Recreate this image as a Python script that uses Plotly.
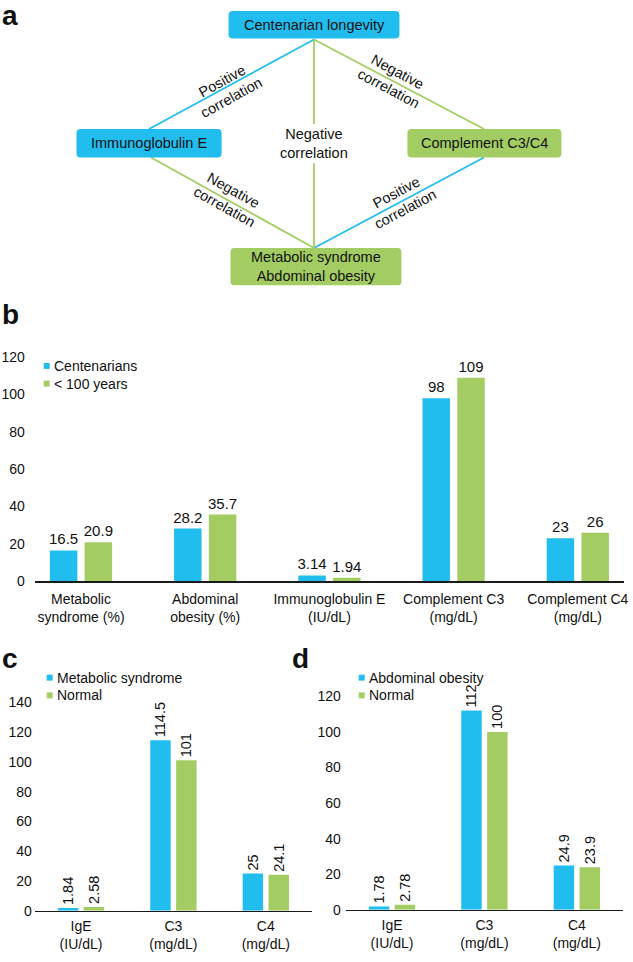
import plotly.graph_objects as go

W, H = 633, 962
BLUE = "#21BDEE"
GREEN = "#A3CD63"
FONT = "Arial, Liberation Sans, sans-serif"

# ---------------- data ----------------
b_categories = ["Metabolic<br>syndrome (%)", "Abdominal<br>obesity (%)",
                "Immunoglobulin E<br>(IU/dL)", "Complement C3<br>(mg/dL)",
                "Complement C4<br>(mg/dL)"]
b_centenarians = [16.5, 28.2, 3.14, 98, 23]
b_under100 = [20.9, 35.7, 1.94, 109, 26]

cd_categories = ["IgE<br>(IU/dL)", "C3<br>(mg/dL)", "C4<br>(mg/dL)"]
c_metabolic = [1.84, 114.5, 25]
c_normal = [2.58, 101, 24.1]
d_abdominal = [1.78, 112, 24.9]
d_normal = [2.78, 100, 23.9]

b_yticks = [0, 20, 40, 60, 80, 100, 120]
c_yticks = [0, 20, 40, 60, 80, 100, 120, 140]
d_yticks = [0, 20, 40, 60, 80, 100, 120]


def px(x):
    return x / W


def py(y):
    return 1 - y / H


fig = go.Figure()

def add_bars(x, y, color, name, xa, ya, angle, size):
    fig.add_trace(go.Bar(
        x=x, y=y, name=name, marker=dict(color=color, line=dict(width=0)),
        xaxis=xa, yaxis=ya, texttemplate="%{y}", textposition="outside",
        textangle=angle, constraintext="none", cliponaxis=False,
        textfont=dict(family=FONT, size=size, color="#111"),
        showlegend=False, hoverinfo="skip"))

add_bars(b_categories, b_centenarians, BLUE, "Centenarians", "x", "y", 0, 15)
add_bars(b_categories, b_under100, GREEN, "< 100 years", "x", "y", 0, 15)
add_bars(cd_categories, c_metabolic, BLUE, "Metabolic syndrome", "x2", "y2", -90, 14.5)
add_bars(cd_categories, c_normal, GREEN, "Normal", "x2", "y2", -90, 14.5)
add_bars(cd_categories, d_abdominal, BLUE, "Abdominal obesity", "x3", "y3", -90, 14.5)
add_bars(cd_categories, d_normal, GREEN, "Normal", "x3", "y3", -90, 14.5)

xcommon = dict(showgrid=False, zeroline=False, showline=True, linecolor="#1a1a1a",
               linewidth=1.5, ticks="", tickfont=dict(family=FONT, size=14, color="#111"),
               type="category", fixedrange=True)
ycommon = dict(showgrid=False, zeroline=False, showline=False, ticks="",
               tickfont=dict(family=FONT, size=14, color="#111"), fixedrange=True)

fig.update_layout(
    width=W, height=H, margin=dict(l=0, r=0, t=0, b=0),
    paper_bgcolor="white", plot_bgcolor="white",
    bargap=0.44, bargroupgap=0.21, barmode="group", showlegend=False,
    xaxis=dict(**xcommon, domain=[px(35), px(628)], range=[-0.372, 4.372], anchor="y",
               ticklabelstandoff=4),
    yaxis=dict(**ycommon, domain=[py(583), py(355)], range=[0, 120], tickvals=b_yticks,
               anchor="x", ticklabelstandoff=9),
    xaxis2=dict(**xcommon, domain=[px(35), px(314)], range=[-0.5, 2.5], anchor="y2",
                ticklabelstandoff=2),
    yaxis2=dict(**ycommon, domain=[py(918), py(706)], range=[0, 140], tickvals=c_yticks,
                anchor="x2", ticklabelstandoff=2),
    xaxis3=dict(**xcommon, domain=[px(348), px(627)], range=[-0.5, 2.5], anchor="y3",
                ticklabelstandoff=2),
    yaxis3=dict(**ycommon, domain=[py(917), py(700)], range=[0, 120], tickvals=d_yticks,
                anchor="x3", ticklabelstandoff=4),
)

shapes = []
annotations = []


def text(x, y, s, size=14, angle=0, bold=False, xanchor="center", yanchor="middle"):
    annotations.append(dict(
        x=px(x), y=py(y), xref="paper", yref="paper", text=("<b>%s</b>" % s) if bold else s,
        showarrow=False, textangle=angle, xanchor=xanchor, yanchor=yanchor,
        font=dict(family=FONT, size=size, color="#111")))


def line(x0, y0, x1, y1, color):
    shapes.append(dict(type="line", xref="paper", yref="paper", x0=px(x0), y0=py(y0),
                       x1=px(x1), y1=py(y1), line=dict(color=color, width=1.8)))


def rbox(x0, y0, x1, y1, color, r=4):
    p = (f"M {px(x0 + r)},{py(y0)} L {px(x1 - r)},{py(y0)} Q {px(x1)},{py(y0)} {px(x1)},{py(y0 + r)} "
         f"L {px(x1)},{py(y1 - r)} Q {px(x1)},{py(y1)} {px(x1 - r)},{py(y1)} "
         f"L {px(x0 + r)},{py(y1)} Q {px(x0)},{py(y1)} {px(x0)},{py(y1 - r)} "
         f"L {px(x0)},{py(y0 + r)} Q {px(x0)},{py(y0)} {px(x0 + r)},{py(y0)} Z")
    shapes.append(dict(type="path", xref="paper", yref="paper", path=p,
                       fillcolor=color, line=dict(width=0)))


# ---------------- panel a: diagram ----------------
line(316, 32, 150, 123, BLUE)
line(316, 32, 487, 123, GREEN)
line(152, 152, 316, 244, GREEN)
line(487, 152, 316, 244, BLUE)
line(316, 32, 316, 118, GREEN)
line(316, 158, 316, 244, GREEN)

rbox(230, 3, 402, 31, BLUE)
rbox(77, 123, 223, 152, BLUE)
rbox(410, 123, 565, 152, GREEN)
rbox(232, 244, 404, 282, GREEN)

text(316, 17, "Centenarian longevity", 14.5)
text(150, 137.5, "Immunoglobulin E", 14.5)
text(487.5, 137.5, "Complement C3/C4", 14.5)
text(318, 263, "Metabolic syndrome<br>Abdominal obesity", 14.5)
text(316, 138, "Negative<br>correlation", 14.5)
text(228, 83, "Positive<br>correlation", 14.5, angle=-29)
text(396, 74, "Negative<br>correlation", 14.5, angle=28)
text(230, 194, "Negative<br>correlation", 14.5, angle=29)
text(404, 196, "Positive<br>correlation", 14.5, angle=-28)

# panel letters
text(0, 8, "a", 28, bold=True, xanchor="left")
text(0, 312, "b", 28, bold=True, xanchor="left")
text(0, 662, "c", 28, bold=True, xanchor="left")
text(292, 662, "d", 28, bold=True, xanchor="left")

# legends (drawn as small squares + labels)
def legend_item(x, y, color, label):
    shapes.append(dict(type="rect", xref="paper", yref="paper", x0=px(x), x1=px(x + 6),
                       y0=py(y - 3), y1=py(y + 3), fillcolor=color, line=dict(width=0)))
    text(x + 8, y, label, 14, xanchor="left")

legend_item(44, 364, BLUE, "Centenarians")
legend_item(44, 382, GREEN, "< 100 years")
legend_item(47, 681, BLUE, "Metabolic syndrome")
legend_item(47, 699, GREEN, "Normal")
legend_item(361, 681, BLUE, "Abdominal obesity")
legend_item(361, 699, GREEN, "Normal")

fig.update_layout(shapes=shapes, annotations=annotations)
fig.write_html("out.html", config={"displayModeBar": False, "staticPlot": True},
               post_script="document.body.style.margin='0';document.body.style.overflow='hidden';")
